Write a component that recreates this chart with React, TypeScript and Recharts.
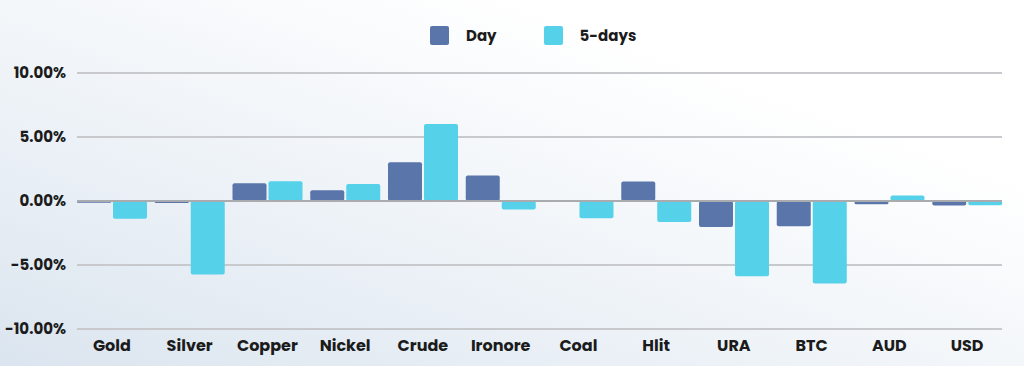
import React from "react";
import {
  BarChart,
  Bar,
  XAxis,
  YAxis,
  CartesianGrid,
  ReferenceLine,
  Legend,
} from "recharts";

const categories = ["Gold", "Silver", "Copper", "Nickel", "Crude", "Ironore", "Coal", "Hlit", "URA", "BTC", "AUD", "USD"];
const dayValues = [-0.14, -0.15, 1.38, 0.84, 3.02, 2.0, 0, 1.52, -2.03, -1.98, -0.26, -0.36];
const fiveDayValues = [-1.38, -5.75, 1.54, 1.33, 6.02, -0.67, -1.35, -1.64, -5.88, -6.45, 0.42, -0.33];
const yTicks = [-10, -5, 0, 5, 10];

const DAY_COLOR = "#5a75aa";
const FIVE_COLOR = "#55d1ea";
const FONT = "Poppins, 'Open Sans', sans-serif";

const data = categories.map((name, i) => ({
  name,
  day: dayValues[i],
  fiveDays: fiveDayValues[i],
}));

const LegendBox = () => (
  <div style={{ display: "flex", alignItems: "center", fontFamily: FONT, fontWeight: 700, fontSize: 15, color: "#1b1b1b" }}>
    <span style={{ width: 19, height: 19, background: DAY_COLOR, borderRadius: 2, marginRight: 17 }} />
    <span style={{ marginRight: 47 }}>Day</span>
    <span style={{ width: 19, height: 19, background: FIVE_COLOR, borderRadius: 2, marginRight: 17 }} />
    <span>5-days</span>
  </div>
);

export default function App() {
  return (
    <div
      style={{
        position: "fixed",
        left: 0,
        top: 0,
        width: 1024,
        height: 366,
        background: "linear-gradient(to top right, #dbe5ef 0%, #f1f5f9 45%, #ffffff 75%)",
      }}>
      <BarChart
        width={1024}
        height={366}
        data={data}
        margin={{ top: 73, right: 22, bottom: 7, left: 0 }}
        barGap={2}
        barCategoryGap={4}>
        <CartesianGrid vertical={false} stroke="#c7c9cc" strokeWidth={2} />
        <ReferenceLine y={0} stroke="#a9abae" strokeWidth={2} />
        <XAxis
          dataKey="name"
          axisLine={false}
          tickLine={false}
          height={30}
          tickMargin={5}
          padding={{ left: -4, right: -4 }}
          tick={{ fill: "#1b1b1b", fontSize: 16, fontWeight: 700, fontFamily: FONT }}
        />
        <YAxis
          domain={[-10, 10]}
          ticks={yTicks}
          width={77}
          axisLine={false}
          tickLine={false}
          tickMargin={5}
          tickFormatter={(v) => `${v.toFixed(2)}%`}
          tick={{ fill: "#1b1b1b", fontSize: 15, fontWeight: 700, fontFamily: FONT }}
        />
        <Legend
          verticalAlign="middle"
          content={<LegendBox />}
          wrapperStyle={{ top: 24, left: 430, width: "auto" }}
        />
        <Bar dataKey="day" name="Day" fill={DAY_COLOR} radius={2} isAnimationActive={false} />
        <Bar dataKey="fiveDays" name="5-days" fill={FIVE_COLOR} radius={2} isAnimationActive={false} />
      </BarChart>
    </div>
  );
}
